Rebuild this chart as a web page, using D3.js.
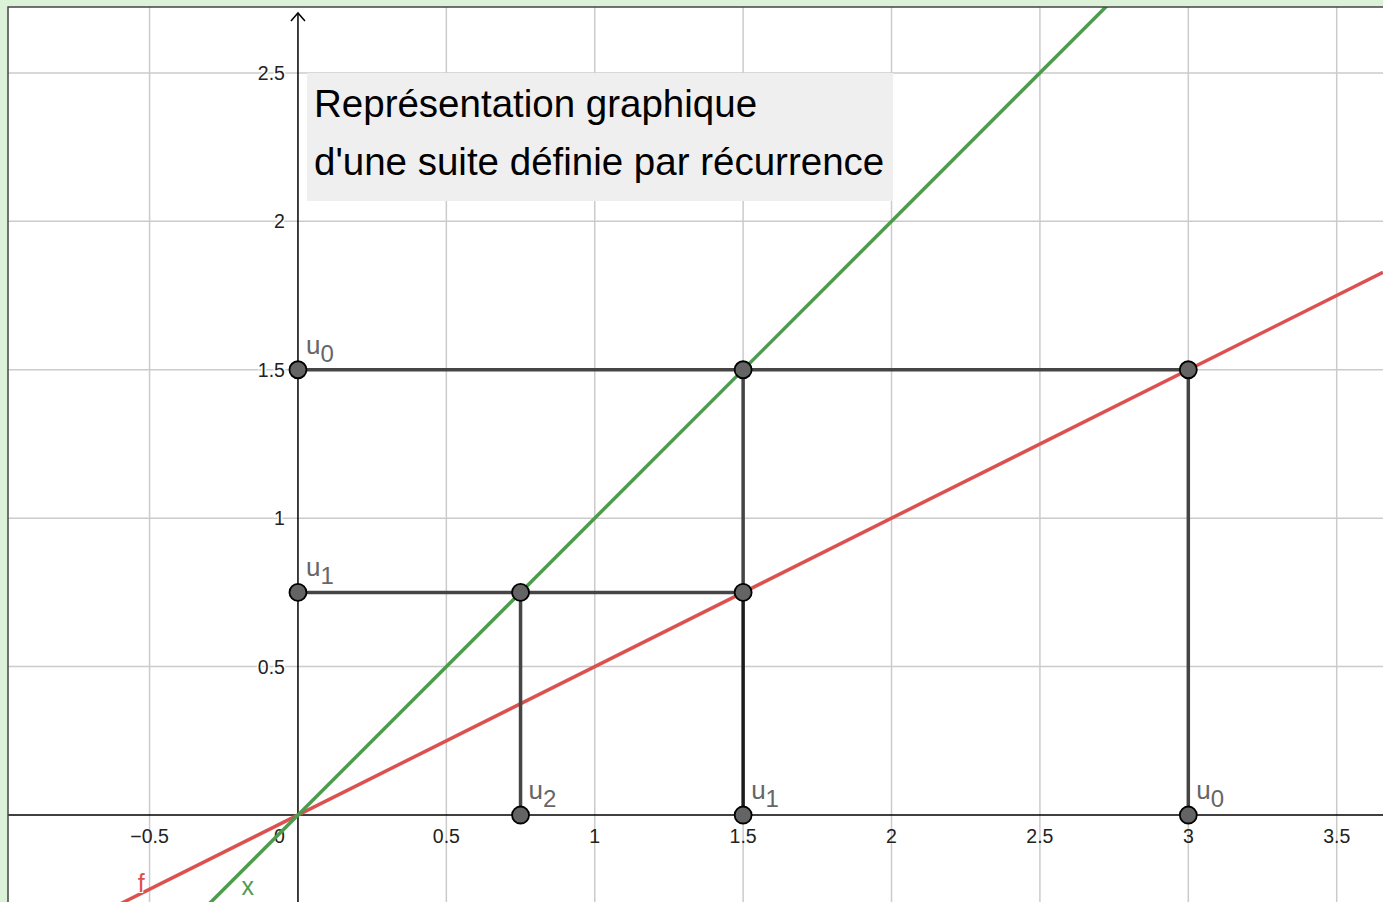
<!DOCTYPE html>
<html>
<head>
<meta charset="UTF-8">
<script src="https://cdnjs.cloudflare.com/ajax/libs/d3/7.8.5/d3.min.js"></script>
<style>
  body { margin: 0; background: #dcf2d8; }
  svg { display: block; font-family: "Liberation Sans", Arial, sans-serif; }
</style>
</head>
<body>
<div id="chart"></div>
<script>
// grid / tick values
var xTicks = [-0.5, 0, 0.5, 1, 1.5, 2, 2.5, 3, 3.5];
var xTickLabels = ["\u22120.5", "0", "0.5", "1", "1.5", "2", "2.5", "3", "3.5"];
var yTicks = [0.5, 1, 1.5, 2, 2.5];
var yTickLabels = ["0.5", "1", "1.5", "2", "2.5"];

// the two lines: name, slope, where the name is written
var lineNames = ["f", "x"];
var lineSlopes = [0.5, 1];
var lineColors = ["#dc5050", "#4f9a4f"];
var lineLabelX = [-0.54, -0.19];
var lineLabelY = [-0.26, -0.27];

// staircase segments [x1, y1, x2, y2]
var segments = [
  [0, 1.5, 3, 1.5],
  [3, 1.5, 3, 0],
  [1.5, 1.5, 1.5, 0.75],
  [0, 0.75, 1.5, 0.75],
  [0.75, 0.75, 0.75, 0]
];
var darkSegment = [1.5, 0.75, 1.5, 0];

// points and their labels
var pointX = [0, 1.5, 3, 0, 0.75, 1.5, 0.75, 1.5, 3];
var pointY = [1.5, 1.5, 1.5, 0.75, 0.75, 0.75, 0, 0, 0];
var pointSub = ["0", null, null, "1", null, null, "2", "1", "0"];

var title = ["Représentation graphique", "d'une suite définie par récurrence"];

var W = 1383, H = 902;
var padL = 8, padT = 7;

var x = d3.scaleLinear().domain([-0.977, 3.656]).range([padL, W]);
var y = d3.scaleLinear().domain([-0.293, 2.722]).range([H, padT]);

var svg = d3.select("#chart").append("svg")
  .attr("width", W).attr("height", H);

svg.append("rect").attr("width", W).attr("height", H).attr("fill", "#dcf2d8");
svg.append("rect").attr("x", padL).attr("y", padT)
  .attr("width", W - padL).attr("height", H - padT)
  .attr("fill", "#fff");

svg.append("clipPath").attr("id", "clip")
  .append("rect").attr("x", padL).attr("y", padT)
  .attr("width", W - padL).attr("height", H - padT);

var g = svg.append("g").attr("clip-path", "url(#clip)");

// grid
g.selectAll(".gx").data(xTicks.filter(function(d) { return d != 0; }))
  .enter().append("line")
  .attr("x1", d => x(d)).attr("x2", d => x(d))
  .attr("y1", padT).attr("y2", H)
  .attr("stroke", "#cbcbcb").attr("stroke-width", 1.5);

g.selectAll(".gy").data(yTicks)
  .enter().append("line")
  .attr("y1", d => y(d)).attr("y2", d => y(d))
  .attr("x1", padL).attr("x2", W)
  .attr("stroke", "#cbcbcb").attr("stroke-width", 1.5);

// axes
g.append("line").attr("x1", padL).attr("x2", W)
  .attr("y1", y(0)).attr("y2", y(0))
  .attr("stroke", "#000").attr("stroke-width", 1.5);
g.append("line").attr("x1", x(0)).attr("x2", x(0))
  .attr("y1", padT + 6).attr("y2", H)
  .attr("stroke", "#000").attr("stroke-width", 1.5);
g.append("path")
  .attr("d", "M" + (x(0) - 7) + "," + (padT + 14) + "L" + x(0) + "," + (padT + 6) + "L" + (x(0) + 7) + "," + (padT + 14))
  .attr("fill", "none").attr("stroke", "#000").attr("stroke-width", 1.5);

// tick labels
g.selectAll(".xl").data(xTicks).enter().append("text")
  .attr("x", (d, i) => d == 0 ? x(0) - 24 : x(d))
  .attr("y", y(0) + 28)
  .attr("text-anchor", d => d == 0 ? "start" : "middle")
  .attr("font-size", 19.5).attr("fill", "#222")
  .text((d, i) => xTickLabels[i]);

g.selectAll(".yl").data(yTicks).enter().append("text")
  .attr("x", x(0) - 13)
  .attr("y", d => y(d) + 7)
  .attr("text-anchor", "end")
  .attr("font-size", 19.5).attr("fill", "#222")
  .style("paint-order", "stroke").attr("stroke", "#fff").attr("stroke-width", 3)
  .text((d, i) => yTickLabels[i]);

// title box
g.append("rect").attr("x", 307).attr("y", 73)
  .attr("width", 586).attr("height", 128)
  .attr("fill", "#efefef");
g.selectAll(".title").data(title).enter().append("text")
  .attr("x", 314).attr("y", (d, i) => 117 + i * 58)
  .attr("font-size", 38.5).attr("fill", "#000")
  .text(d => d);

// lines f and x
var dom = x.domain();
lineSlopes.forEach(function(m, i) {
  g.append("line")
    .attr("x1", x(dom[0])).attr("y1", y(m * dom[0]))
    .attr("x2", x(dom[1])).attr("y2", y(m * dom[1]))
    .attr("stroke", lineColors[i]).attr("stroke-width", 3.5);
  g.append("text")
    .attr("x", x(lineLabelX[i])).attr("y", y(lineLabelY[i]))
    .attr("font-size", 25).attr("fill", lineColors[i])
    .style("paint-order", "stroke").attr("stroke", "#fff").attr("stroke-width", 2)
    .text(lineNames[i]);
});

// staircase
g.selectAll(".seg").data(segments).enter().append("line")
  .attr("x1", d => x(d[0])).attr("y1", d => y(d[1]))
  .attr("x2", d => x(d[2])).attr("y2", d => y(d[3]))
  .attr("stroke", "#454545").attr("stroke-width", 3.5);
g.append("line")
  .attr("x1", x(darkSegment[0])).attr("y1", y(darkSegment[1]))
  .attr("x2", x(darkSegment[2])).attr("y2", y(darkSegment[3]))
  .attr("stroke", "#1c1c1c").attr("stroke-width", 3.5);

// points
g.selectAll(".pt").data(pointX).enter().append("circle")
  .attr("cx", d => x(d)).attr("cy", (d, i) => y(pointY[i]))
  .attr("r", 8.5)
  .attr("fill", "#646464").attr("stroke", "#000").attr("stroke-width", 1.8);

// point labels
pointX.forEach(function(px, i) {
  if (pointSub[i] == null) return;
  var t = g.append("text")
    .attr("x", x(px) + 8).attr("y", y(pointY[i]) - 16)
    .attr("font-size", 26).attr("fill", "#666");
  t.append("tspan").text("u");
  t.append("tspan").attr("dy", 8).attr("font-size", 24).text(pointSub[i]);
});

// frame
svg.append("path")
  .attr("d", "M" + padL + "," + H + "V" + padT + "H" + W)
  .attr("fill", "none").attr("stroke", "#444").attr("stroke-width", 1.5);
</script>
</body>
</html>
